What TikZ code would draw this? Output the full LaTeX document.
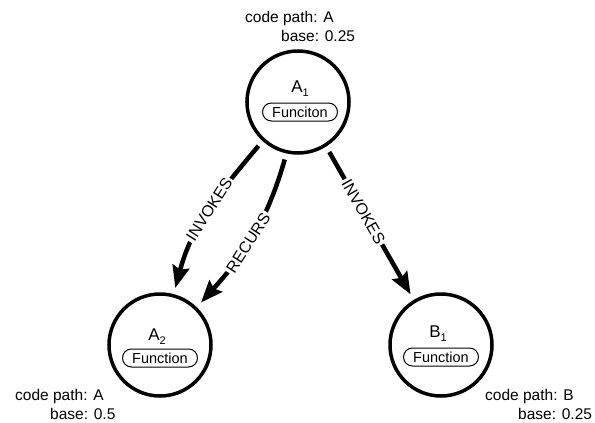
\documentclass[tikz,border=0pt]{standalone}
\usepackage{fontspec}
\setmainfont{Liberation Sans}
\usetikzlibrary{arrows.meta,shapes.misc}
% lowered index digit for node names
\newcommand\idx[1]{\raisebox{-0.25em}{\fontsize{11}{11}\selectfont #1}}
\begin{document}
\begin{tikzpicture}[x=1pt,y=-1pt,
  fn/.style={circle,draw,line width=3.5pt,minimum size=102pt,inner sep=0pt,outer sep=8pt},
  fnlabel/.style={font=\fontsize{17}{20}\selectfont,inner sep=0pt},
  pill/.style={rounded rectangle,draw,line width=1pt,minimum width=77pt,minimum height=18pt,
    inner sep=1pt,font=\fontsize{14.5}{17}\selectfont},
  note/.style={anchor=west,inner sep=0pt,font=\fontsize{15.5}{19}\selectfont},
  callarrow/.style={line width=4.5pt,-{Stealth[length=22pt,width=17pt,inset=3pt]}},
  edgetext/.style={sloped,fill=white,inner sep=2pt,font=\fontsize{16}{19}\selectfont}]
\useasboundingbox (0,0) rectangle (595,423);

% function nodes
\node[fn] (A1) at (298,102) {};
\node[fn] (A2) at (160,345) {};
\node[fn] (B1) at (441,345) {};

% names and kinds inside the nodes
\node[fnlabel] (A1name) at (300,89) {A\idx{1}};
\node[pill] (A1kind) at (300,112) {Funciton};
\node[fnlabel] (A2name) at (157,337) {A\idx{2}};
\node[pill] (A2kind) at (160,358) {Function};
\node[fnlabel] (B1name) at (438,334) {B\idx{1}};
\node[pill] (B1kind) at (441,357) {Function};

% code path annotations
\node[note] (A1path) at (245,18) {code path: A};
\node[note] (A1base) at (281,36) {base: 0.25};
\node[note] (A2path) at (15,396) {code path: A};
\node[note] (A2base) at (50,414) {base: 0.5};
\node[note] (B1path) at (485,396) {code path: B};
\node[note] (B1base) at (518,414) {base: 0.25};

% calls
\draw[callarrow] (A1.228) to[out=230,in=75] node[edgetext,pos=.48] {INVOKES} (A2.75);
\draw[callarrow] (A1.257) to[out=254,in=48] node[edgetext,pos=.55] {RECURS} (A2.46);
\draw[callarrow] (A1.-58) -- node[edgetext,pos=.42] {INVOKES} (B1.121);
\end{tikzpicture}
\end{document}
